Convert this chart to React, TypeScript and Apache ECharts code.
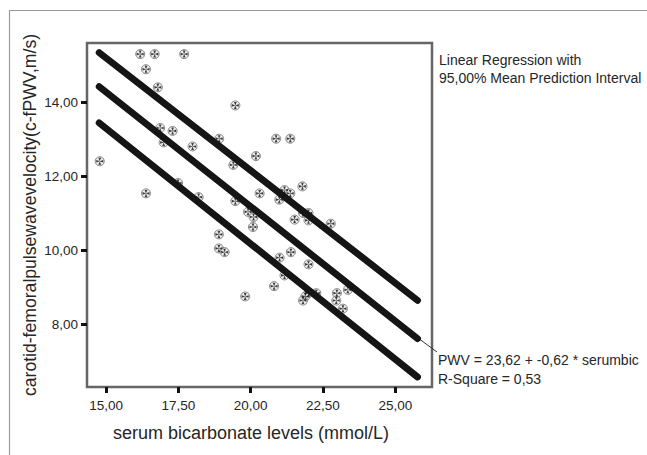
import React, { useEffect, useRef } from "react";
import * as echarts from "echarts";

// serum bicarbonate (mmol/L) and c-fPWV (m/s)
const bicarb = [
  16.18, 16.68, 17.7, 16.38, 16.79, 19.47, 16.87, 17.3, 16.99, 18.91,
  17.99, 14.78, 20.18, 19.4, 17.49, 16.38, 18.2, 20.88, 21.37, 21.79,
  21.17, 21.37, 20.31, 20.99, 19.47, 19.91, 20.1, 20.08, 18.9, 18.9,
  19.1, 19.81, 21.81, 22.0, 22.0, 21.52, 22.77, 21.39, 21.0, 22.0,
  21.17, 20.81, 22.0, 22.27, 21.89, 21.81, 22.98, 23.36, 22.96, 23.19,
];
const pwv = [
  15.31, 15.31, 15.31, 14.9, 14.41, 13.92, 13.31, 13.23, 12.92, 13.02,
  12.81, 12.41, 12.55, 12.31, 11.82, 11.54, 11.44, 13.02, 13.02, 11.73,
  11.63, 11.54, 11.54, 11.37, 11.33, 11.04, 10.9, 10.63, 10.43, 10.05,
  9.95, 8.75, 11.01, 11.01, 10.81, 10.83, 10.72, 9.95, 9.8, 9.62,
  9.32, 9.03, 8.84, 8.84, 8.75, 8.64, 8.84, 8.93, 8.64, 8.42,
];

// regression line and interval bounds at the ends of the fitted range
const fitX = [14.76, 25.77];
const fitMean = [14.43, 7.61];
const fitUpper = [15.35, 8.645];
const fitLower = [13.45, 6.57];

const xTicks = [15, 17.5, 20, 22.5, 25];
const yTicks = [8, 10, 12, 14];

const noteTop = ["Linear Regression with", "95,00% Mean Prediction Interval"];
const noteBottom = ["PWV = 23,62 + -0,62 * serumbic", "R-Square = 0,53"];

const FONT = "Liberation Sans, Arial, sans-serif";
const TXT = "#262626";

const fmt = (v: number) => v.toFixed(2).replace(".", ",");

export default function App() {
  const ref = useRef<HTMLDivElement>(null);
  useEffect(() => {
    if (!ref.current) return;
    const chart = echarts.init(ref.current, undefined, { renderer: "svg" });
    const pts = bicarb.map((x, i) => [x, pwv[i]]);
    const line = (ys: number[]) => fitX.map((x, i) => [x, ys[i]]);
    const lineSeries = (ys: number[]) => ({
      type: "line",
      data: line(ys),
      symbol: "none",
      z: 5,
      lineStyle: { color: "#151515", width: 6.8, cap: "round" },
      silent: true,
    });
    chart.setOption({
      animation: false,
      backgroundColor: "#fff",
      grid: {
        left: 87,
        top: 43,
        right: 215,
        bottom: 68,
        show: true,
        borderColor: "#666",
        borderWidth: 2.5,
        backgroundColor: "transparent",
      },
      xAxis: {
        type: "value",
        min: 14.34,
        max: 26.27,
        axisLine: { show: false },
        splitLine: { show: false },
        axisTick: {
          show: true,
          customValues: xTicks,
          length: 6,
          lineStyle: { color: "#111", width: 3 },
        },
        axisLabel: {
          customValues: xTicks,
          formatter: fmt,
          fontSize: 13.5,
          fontFamily: FONT,
          color: TXT,
          margin: 11,
        },
      },
      yAxis: {
        type: "value",
        min: 6.3,
        max: 15.61,
        axisLine: { show: false },
        splitLine: { show: false },
        axisTick: {
          show: true,
          customValues: yTicks,
          length: 6,
          lineStyle: { color: "#111", width: 3 },
        },
        axisLabel: {
          customValues: yTicks,
          formatter: fmt,
          fontSize: 13.5,
          fontFamily: FONT,
          color: TXT,
          margin: 9,
        },
      },
      series: [
        {
          type: "scatter",
          data: pts,
          symbol: "circle",
          symbolSize: 9,
          z: 2,
          itemStyle: { color: "#e6e6e6", borderColor: "#6a6a6a", borderWidth: 1 },
        },
        {
          type: "scatter",
          data: pts,
          symbol:
            "path://M5 5L3.1 0L6.9 0ZM5 5L10 3.1L10 6.9ZM5 5L6.9 10L3.1 10ZM5 5L0 6.9L0 3.1Z",
          symbolSize: 7,
          z: 3,
          itemStyle: { color: "#111" },
        },
        lineSeries(fitUpper),
        lineSeries(fitMean),
        lineSeries(fitLower),
      ],
      graphic: [
        {
          type: "rect",
          shape: { x: 9.5, y: 10.5, width: 700, height: 600 },
          style: { fill: "none", stroke: "#9a9a9a", lineWidth: 1.2 },
          silent: true,
        },
        {
          type: "line",
          shape: { x1: 418, y1: 338, x2: 437, y2: 352 },
          style: { stroke: "#333", lineWidth: 1 },
        },
        {
          type: "text",
          x: 30,
          y: 215,
          rotation: Math.PI / 2,
          style: {
            text: "carotid-femoralpulsewavevelocity(c-fPWV,m/s)",
            fontSize: 17.6,
            fontFamily: FONT,
            fill: TXT,
            align: "center",
            verticalAlign: "middle",
          },
        },
        {
          type: "text",
          x: 251,
          y: 433,
          style: {
            text: "serum bicarbonate levels (mmol/L)",
            fontSize: 18,
            fontFamily: FONT,
            fill: TXT,
            align: "center",
            verticalAlign: "middle",
          },
        },
        ...noteTop.map((t, i) => ({
          type: "text",
          x: 439,
          y: 60 + i * 18,
          style: {
            text: t,
            fontSize: 14,
            fontFamily: FONT,
            fill: TXT,
            align: "left",
            verticalAlign: "middle",
          },
        })),
        ...noteBottom.map((t, i) => ({
          type: "text",
          x: 438,
          y: 360 + i * 19,
          style: {
            text: t,
            fontSize: 14,
            fontFamily: FONT,
            fill: TXT,
            align: "left",
            verticalAlign: "middle",
          },
        })),
      ],
    });
    return () => chart.dispose();
  }, []);
  return (
    <div
      ref={ref}
      style={{ position: "fixed", left: 0, top: 0, width: 647, height: 455 }}
    />
  );
}
